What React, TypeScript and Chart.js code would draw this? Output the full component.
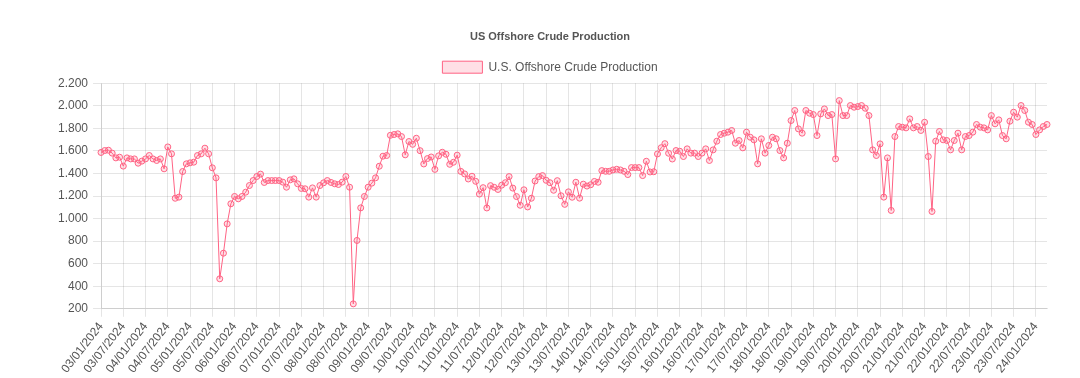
import React, { useEffect, useRef } from "react";
import { Chart, registerables } from "chart.js";

Chart.register(...registerables);

const TITLE = "US Offshore Crude Production";
const SERIES_NAME = "U.S. Offshore Crude Production";

// Monthly categories from 2003-01 to 2024-04, labelled "YY/MM/2024" as in the source chart
const START_YEAR = 3;
const MONTH_COUNT = 256;
const categories: string[] = [];
for (let i = 0; i < MONTH_COUNT; i++) {
  const yy = START_YEAR + Math.floor(i / 12);
  const mm = (i % 12) + 1;
  categories.push(`${String(yy).padStart(2, "0")}/${String(mm).padStart(2, "0")}/2024`);
}

const production: number[] = [
  1586, 1603, 1606, 1580, 1538, 1544, 1465, 1538, 1529, 1529, 1491, 1509,
  1529, 1559, 1529, 1515, 1529, 1441, 1635, 1574, 1180, 1190, 1417, 1485,
  1494, 1500, 1559, 1574, 1624, 1574, 1450, 1361, 466, 693, 953, 1131,
  1196, 1175, 1196, 1234, 1293, 1337, 1373, 1394, 1320, 1337, 1337, 1337,
  1337, 1323, 1278, 1343, 1352, 1308, 1267, 1264, 1190, 1272, 1190, 1293,
  1317, 1337, 1320, 1308, 1302, 1323, 1373, 1278, 244, 806, 1095, 1196,
  1278, 1314, 1361, 1464, 1553, 1559, 1738, 1745, 1751, 1727, 1565, 1683,
  1658, 1712, 1602, 1484, 1532, 1546, 1436, 1556, 1588, 1570, 1481, 1499,
  1562, 1418, 1396, 1351, 1375, 1330, 1217, 1274, 1094, 1292, 1277, 1258,
  1296, 1318, 1372, 1270, 1195, 1118, 1255, 1103, 1180, 1333, 1372, 1381,
  1339, 1318, 1251, 1336, 1202, 1126, 1237, 1189, 1322, 1181, 1305, 1288,
  1300, 1329, 1322, 1425, 1419, 1419, 1431, 1437, 1431, 1419, 1390, 1452,
  1452, 1452, 1381, 1508, 1413, 1415, 1573, 1628, 1664, 1579, 1528, 1603,
  1597, 1550, 1618, 1580, 1580, 1550, 1580, 1618, 1515, 1609, 1686, 1745,
  1757, 1766, 1781, 1668, 1692, 1627, 1766, 1721, 1698, 1485, 1707, 1580,
  1648, 1721, 1707, 1603, 1538, 1668, 1869, 1958, 1795, 1757, 1958, 1934,
  1922, 1736, 1928, 1972, 1913, 1922, 1529, 2046, 1913, 1913, 2002, 1987,
  1993, 2002, 1978, 1913, 1609, 1559, 1662, 1190, 1538, 1072, 1727, 1816,
  1810, 1804, 1884, 1804, 1816, 1781, 1854, 1550, 1063, 1686, 1772, 1698,
  1692, 1609, 1692, 1757, 1609, 1727, 1736, 1766, 1834, 1810, 1804, 1786,
  1913, 1840, 1875, 1736, 1707, 1863, 1943, 1899, 2002, 1958, 1854, 1834,
  1745, 1786, 1816, 1834,
];

const Y_MIN = 200;
const Y_MAX = 2200;
const Y_STEP = 200;
const LABEL_EVERY = 6;

const fmt = (v: number) => String(v).replace(/\B(?=(\d{3})+(?!\d))/g, ".");

export default function App() {
  const ref = useRef<HTMLCanvasElement | null>(null);
  useEffect(() => {
    if (!ref.current) return;
    const gridColor = "rgba(0,0,0,0.1)";
    const chart = new Chart(ref.current, {
      type: "line",
      data: {
        labels: categories,
        datasets: [
          {
            label: SERIES_NAME,
            data: production,
            borderColor: "rgb(255, 99, 132)",
            backgroundColor: "rgba(255, 99, 132, 0.2)",
            borderWidth: 1,
            pointRadius: 3,
            pointBorderWidth: 1,
            tension: 0,
          },
        ],
      },
      options: {
        animation: false,
        responsive: true,
        maintainAspectRatio: false,
        layout: { padding: { left: 45, right: 25, top: 12, bottom: 1 } },
        plugins: {
          title: {
            display: true,
            text: TITLE,
            color: "#555",
            padding: { top: 10, bottom: 9 },
            font: { size: 11, weight: "bold" },
          },
          legend: { labels: { color: "#555", padding: 9, font: { size: 12 } } },
          tooltip: { enabled: false },
        },
        scales: {
          x: {
            grid: {
              color: (ctx: any) => (ctx.index % LABEL_EVERY === 0 ? gridColor : "rgba(0,0,0,0)"),
            },
            ticks: {
              autoSkip: false,
              minRotation: 52,
              maxRotation: 52,
              color: "#555",
              font: { size: 12 },
              callback: function (this: any, _v: any, index: number) {
                return index % LABEL_EVERY === 0 ? categories[index] : "";
              },
            },
          },
          y: {
            min: Y_MIN,
            max: Y_MAX,
            ticks: {
              stepSize: Y_STEP,
              padding: 5,
              color: "#555",
              font: { size: 12 },
              callback: (v: any) => fmt(Number(v)),
            },
            grid: { color: gridColor },
          },
        },
      },
    });
    return () => chart.destroy();
  }, []);
  return (
    <div style={{ width: "1064px", height: "372px", position: "relative" }}>
      <canvas ref={ref} />
    </div>
  );
}
